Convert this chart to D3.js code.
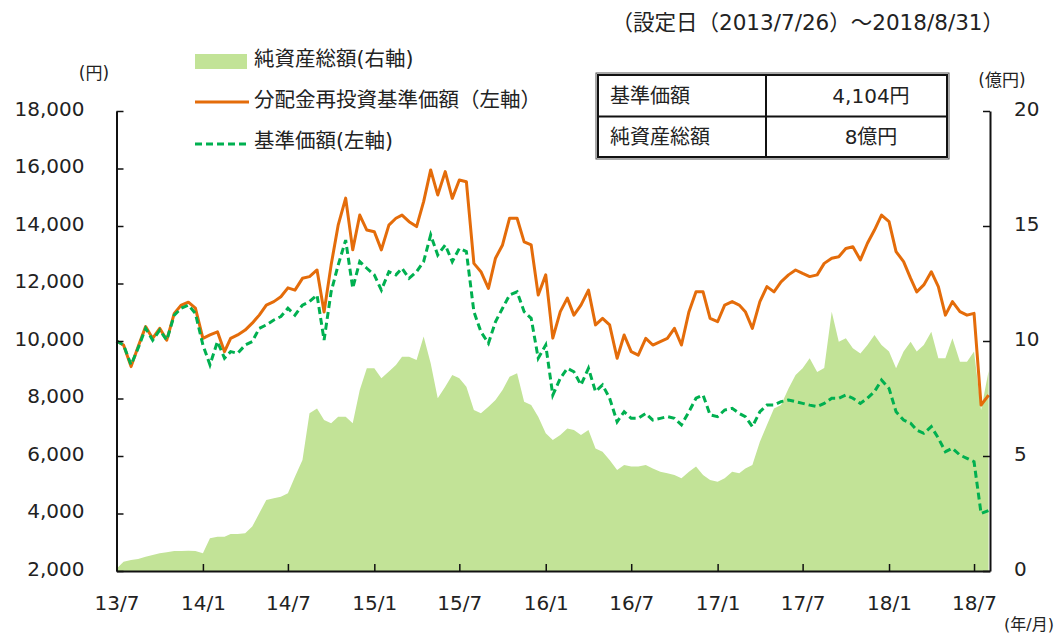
<!DOCTYPE html>
<html>
<head>
<meta charset="utf-8">
<script src="https://cdn.jsdelivr.net/npm/d3@7"></script>
<style>
  body { margin: 0; background: #fff; }
  svg { display: block; }
  text { font-family: "DejaVu Sans", "Noto Sans CJK JP", sans-serif; fill: #222; }
</style>
</head>
<body>
<svg id="drawing_region"></svg>
<script>
// 基準価額 (左軸, 円) - 半月ごとに読み取り
const nav = [
  10000, 9860, 9170, 9750, 10440, 10030, 10380, 10030, 10900, 11140,
  11250, 10960, 9860, 9170, 9980, 9400, 9630, 9570, 9860, 9980,
  10440, 10560, 10730, 10850, 11140, 10900, 11250, 11370, 11600, 10030,
  11710, 12640, 13510, 11840, 12760, 12530, 12300, 11770, 12410, 12300,
  12530, 12180, 12410, 12760, 13690, 12990, 13340, 12760, 13220, 13110,
  11020, 10320, 9920, 10670, 11140, 11600, 11710, 11020, 10790, 9400,
  9860, 8120, 8700, 9050, 8930, 8470, 9050, 8240, 8470, 8010,
  7190, 7540, 7310, 7310, 7480, 7250, 7310, 7370, 7310, 7080,
  7540, 8010, 8120, 7430, 7370, 7600, 7660, 7480, 7370, 7020,
  7540, 7770, 7770, 7890, 7950, 7890, 7830, 7770, 7720, 7830,
  8010, 8010, 8120, 8010, 7830, 8010, 8240, 8640, 8350, 7540,
  7250, 7140, 6900, 6790, 7020, 6620, 6150, 6270, 6030, 5920,
  5800, 4000, 4104
];

// 分配金再投資基準価額 (左軸, 円)
const navReinvest = [
  10000, 9860, 9110, 9800, 10500, 10090, 10440, 10030, 10960, 11250,
  11350, 11140, 10090, 10210, 10320, 9630, 10090, 10210, 10380, 10620,
  10900, 11250, 11370, 11540, 11850, 11770, 12180, 12240, 12470, 11010,
  12640, 14030, 14970, 13170, 14380, 13860, 13800, 13170, 14030, 14270,
  14380, 14150, 13980, 14850, 15950, 15080, 15890, 14960, 15600, 15540,
  12700, 12410, 11830, 12880, 13340, 14270, 14270, 13450, 13340, 11600,
  12300, 10100, 11020, 11490, 10900, 11250, 11770, 10560, 10790, 10560,
  9400, 10210, 9630, 9510, 10090, 9860, 9980, 10090, 10440, 9860,
  11020, 11710, 11710, 10790, 10670, 11250, 11370, 11250, 11020, 10440,
  11370, 11890, 11710, 12060, 12300, 12470, 12350, 12240, 12300, 12700,
  12880, 12930, 13220, 13280, 12820, 13400, 13860, 14380, 14150, 13110,
  12760, 12180, 11710, 11950, 12410, 11890, 10900, 11370, 11020, 10900,
  10960, 7770, 8120
];

// 純資産総額 (右軸, 億円)
const assets = [
  0.10, 0.40, 0.48, 0.52, 0.62, 0.70, 0.77, 0.82, 0.87, 0.87,
  0.88, 0.87, 0.77, 1.42, 1.49, 1.49, 1.61, 1.61, 1.64, 1.93,
  2.51, 3.09, 3.16, 3.23, 3.38, 4.10, 4.83, 6.86, 7.07, 6.57,
  6.42, 6.71, 6.71, 6.42, 7.87, 8.81, 8.81, 8.38, 8.67, 8.96,
  9.32, 9.32, 9.17, 10.20, 9.03, 7.51, 8.01, 8.52, 8.38, 8.01,
  7.00, 6.86, 7.14, 7.43, 7.87, 8.45, 8.60, 7.36, 7.22, 6.71,
  5.99, 5.70, 5.91, 6.20, 6.13, 5.91, 6.13, 5.33, 5.19, 4.83,
  4.39, 4.61, 4.54, 4.54, 4.61, 4.46, 4.32, 4.25, 4.17, 4.03,
  4.32, 4.54, 4.17, 3.96, 3.88, 4.03, 4.32, 4.25, 4.46, 4.61,
  5.62, 6.35, 7.07, 7.22, 7.94, 8.52, 8.81, 9.25, 8.65, 8.83,
  11.27, 9.97, 10.12, 9.68, 9.46, 9.83, 10.26, 9.83, 9.54, 8.81,
  9.54, 9.97, 9.54, 9.83, 10.40, 9.25, 9.25, 10.12, 9.10, 9.10,
  9.54, 7.00, 8.70
];

// 半月ごとの日付 (13/7 から)
const dates = nav.map((_, i) => new Date(2013, 6 + Math.floor(i / 2), i % 2 ? 16 : 1));

const tickDates = [
  new Date(2013, 6, 1), new Date(2014, 0, 1), new Date(2014, 6, 1), new Date(2015, 0, 1),
  new Date(2015, 6, 1), new Date(2016, 0, 1), new Date(2016, 6, 1), new Date(2017, 0, 1),
  new Date(2017, 6, 1), new Date(2018, 0, 1), new Date(2018, 6, 1)
];
const tickLabels = ["13/7", "14/1", "14/7", "15/1", "15/7", "16/1", "16/7", "17/1", "17/7", "18/1", "18/7"];
const leftTicks = [2000, 4000, 6000, 8000, 10000, 12000, 14000, 16000, 18000];
const rightTicks = [0, 5, 10, 15, 20];

const tableRows = [
  ["基準価額", "4,104円"],
  ["純資産総額", "8億円"]
];

const config = {
  width: 1056,
  height: 633,
  left: 116.5, right: 990, top: 111, bottom: 571
};

const svg = d3.select('#drawing_region')
  .attr('width', config.width)
  .attr('height', config.height);

const xscale = d3.scaleTime()
  .domain([new Date(2013, 6, 1), new Date(2018, 7, 4)])
  .range([config.left, config.right]);

const yleft = d3.scaleLinear()
  .domain([2000, 18000])
  .range([config.bottom, config.top]);

const yright = d3.scaleLinear()
  .domain([0, 20])
  .range([config.bottom, config.top]);

const orange = '#e46c0a';
const green = '#00b050';
const areaColor = '#c2e397';

// 純資産総額 area
const area = d3.area()
  .x((d, i) => xscale(dates[i]))
  .y0(yright(0))
  .y1(d => yright(d));

svg.append('path')
  .datum(assets)
  .attr('d', area)
  .attr('fill', areaColor);

const lineOf = d3.line()
  .x((d, i) => xscale(dates[i]))
  .y(d => yleft(d));

svg.append('path')
  .datum(navReinvest)
  .attr('d', lineOf)
  .attr('fill', 'none')
  .attr('stroke', orange)
  .attr('stroke-width', 3)
  .attr('stroke-linejoin', 'round');

svg.append('path')
  .datum(nav)
  .attr('d', lineOf)
  .attr('fill', 'none')
  .attr('stroke', green)
  .attr('stroke-width', 3)
  .attr('stroke-dasharray', '7,4');

// axes
const styleAxis = g => {
  g.selectAll('.domain').attr('stroke', '#111').attr('stroke-width', 2);
  g.selectAll('.tick line').attr('stroke', '#111').attr('stroke-width', 1.5);
  g.selectAll('.tick text')
    .attr('font-family', '"DejaVu Sans", "Noto Sans CJK JP", sans-serif')
    .attr('font-size', 20)
    .attr('fill', '#222');
  g.attr('font-family', null).attr('font-size', null);
};

const xaxis = d3.axisBottom(xscale)
  .tickValues(tickDates)
  .tickFormat((d, i) => tickLabels[i])
  .tickSizeInner(-7)
  .tickSizeOuter(0)
  .tickPadding(25);

svg.append('g')
  .attr('transform', `translate(0, ${config.bottom})`)
  .call(xaxis)
  .call(styleAxis);

const yaxisL = d3.axisLeft(yleft)
  .tickValues(leftTicks)
  .tickFormat(d3.format(','))
  .tickSizeInner(-7)
  .tickSizeOuter(0)
  .tickPadding(32);

svg.append('g')
  .attr('transform', `translate(${config.left}, 0)`)
  .call(yaxisL)
  .call(styleAxis)
  .selectAll('.tick text').attr('dy', '0.2em');

const yaxisR = d3.axisRight(yright)
  .tickValues(rightTicks)
  .tickSizeInner(-7)
  .tickSizeOuter(0)
  .tickPadding(24);

svg.append('g')
  .attr('transform', `translate(${config.right}, 0)`)
  .call(yaxisR)
  .call(styleAxis)
  .selectAll('.tick text').attr('dy', '0.2em');

// units & title
svg.append('text').attr('x', 94).attr('y', 73).attr('text-anchor', 'middle')
  .attr('dominant-baseline', 'central').attr('font-size', 17).text('(円)');
svg.append('text').attr('x', 1002).attr('y', 80).attr('text-anchor', 'middle')
  .attr('dominant-baseline', 'central').attr('font-size', 17).text('(億円)');
svg.append('text').attr('x', 1054).attr('y', 624).attr('text-anchor', 'end')
  .attr('dominant-baseline', 'central').attr('font-size', 16).text('(年/月)');
svg.append('text').attr('x', 1004).attr('y', 22).attr('text-anchor', 'end')
  .attr('dominant-baseline', 'central').attr('font-size', 21.5)
  .text('（設定日（2013/7/26）～2018/8/31）');

// legend
const legend = svg.append('g');
legend.append('rect').attr('x', 195).attr('y', 54).attr('width', 52).attr('height', 15)
  .attr('fill', areaColor);
legend.append('line').attr('x1', 195).attr('x2', 249).attr('y1', 102).attr('y2', 102)
  .attr('stroke', orange).attr('stroke-width', 3);
legend.append('line').attr('x1', 195).attr('x2', 249).attr('y1', 144).attr('y2', 144)
  .attr('stroke', green).attr('stroke-width', 3).attr('stroke-dasharray', '7,4');
const legendTexts = ['純資産総額(右軸)', '分配金再投資基準価額（左軸）', '基準価額(左軸)'];
legend.selectAll('text.lg')
  .data(legendTexts)
  .join('text')
  .attr('class', 'lg')
  .attr('x', 254)
  .attr('y', (d, i) => [59, 100, 141][i])
  .attr('dominant-baseline', 'central')
  .attr('font-size', 20.5)
  .text(d => d);

// table
const table = svg.append('g');
table.append('rect').attr('x', 598).attr('y', 75).attr('width', 349).attr('height', 82)
  .attr('fill', '#fff').attr('stroke', '#111').attr('stroke-width', 2);
table.append('rect').attr('x', 596).attr('y', 73).attr('width', 353).attr('height', 86)
  .attr('fill', 'none').attr('stroke', '#555').attr('stroke-width', 1);
table.append('line').attr('x1', 598).attr('x2', 947).attr('y1', 116.5).attr('y2', 116.5)
  .attr('stroke', '#111').attr('stroke-width', 2);
table.append('line').attr('x1', 766).attr('x2', 766).attr('y1', 75).attr('y2', 157)
  .attr('stroke', '#111').attr('stroke-width', 2);
tableRows.forEach((r, i) => {
  const cy = 95.5 + i * 41;
  table.append('text').attr('x', 610).attr('y', cy).attr('dominant-baseline', 'central')
    .attr('font-size', 20).text(r[0]);
  table.append('text').attr('x', 871).attr('y', cy).attr('text-anchor', 'middle')
    .attr('dominant-baseline', 'central').attr('font-size', 20).text(r[1]);
});
</script>
</body>
</html>
